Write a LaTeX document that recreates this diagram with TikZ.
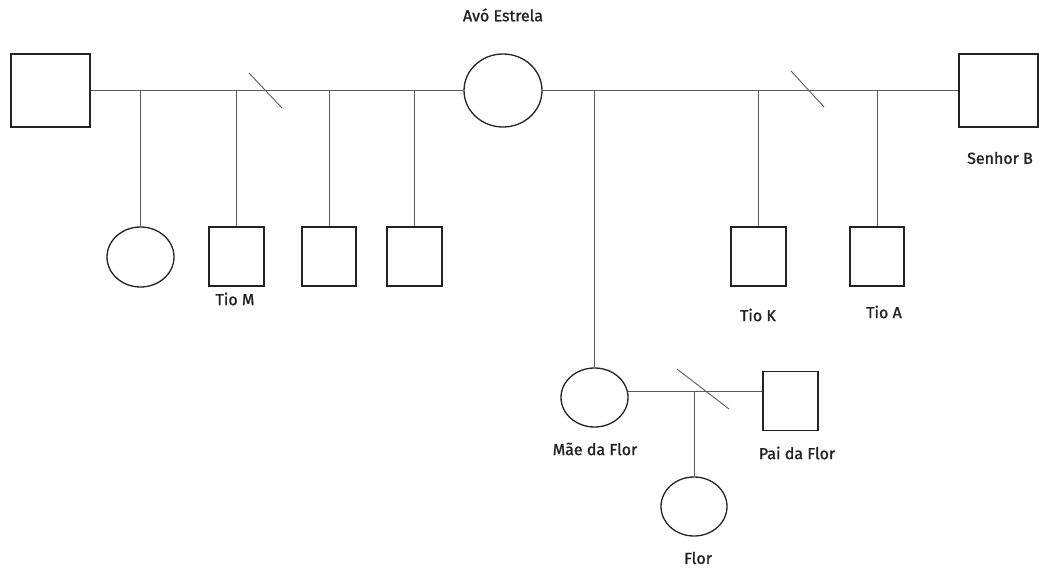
\documentclass[tikz,border=0pt]{standalone}
\usepackage{fontspec}
\newfontfamily\lblfont[FakeBold=1.2]{Fira Sans}
\usetikzlibrary{shapes.geometric}
\definecolor{lncol}{HTML}{5A5A5A}
\definecolor{shcol}{HTML}{222222}
\tikzset{
  male/.style={draw=shcol, line width=1.3pt, rectangle, inner sep=0pt, minimum width=#1},
  female/.style={draw=shcol, line width=1.3pt, ellipse, inner sep=0pt},
  conn/.style={draw=lncol, line width=0.9pt},
  lbl/.style={font=\lblfont\fontsize{16}{19}\selectfont, text=shcol, inner sep=0pt}
}
\begin{document}
\begin{tikzpicture}[x=1pt,y=-1pt]
\useasboundingbox (0,0) rectangle (1039,569);
% generation 1
\node[male=79pt, minimum height=73pt] (gpL) at (50.5,90.5) {};
\node[female, minimum width=78pt, minimum height=73pt] (avo) at (503,90.5) {};
\node[male=79pt, minimum height=73pt] (senhorB) at (998.5,90.5) {};
% generation 2 left
\node[female, minimum width=67pt, minimum height=60pt] (c1) at (140.5,257) {};
\node[male=55pt, minimum height=59pt] (tioM) at (236.5,256.5) {};
\node[male=54pt, minimum height=59pt] (s3) at (329,256.5) {};
\node[male=55pt, minimum height=59pt] (s4) at (414.5,256.5) {};
% generation 2 right
\node[male=55pt, minimum height=59pt] (tioK) at (758.5,256.5) {};
\node[male=54pt, minimum height=59pt] (tioA) at (877,256.5) {};
\node[female, minimum width=67pt, minimum height=59pt] (mae) at (594.5,397.5) {};
\node[male=55pt, minimum height=59pt] (pai) at (790.5,401) {};
% generation 3
\node[female, minimum width=66pt, minimum height=59pt] (flor) at (694,506.5) {};
% labels
\node[lbl] (lavo) at (503,15) {Avó Estrela};
\node[lbl] (ltioM) at (235,299) {Tio M};
\node[lbl] (lsenhor) at (1000,158) {Senhor B};
\node[lbl] (ltioK) at (758,315) {Tio K};
\node[lbl] (ltioA) at (884,312) {Tio A};
\node[lbl] (lmae) at (595,449) {Mãe da Flor};
\node[lbl] (lpai) at (797,453) {Pai da Flor};
\node[lbl] (lflor) at (698,558) {Flor};
% couple lines
\draw[conn] (gpL.east) -- (avo.west);
\draw[conn] (avo.east) -- (senhorB.west);
\draw[conn] (mae.11) -- (mae.11 -| pai.west);
% descent lines
\draw[conn] (c1.north |- avo.west) -- (c1.north);
\draw[conn] (tioM.north |- avo.west) -- (tioM.north);
\draw[conn] (s3.north |- avo.west) -- (s3.north);
\draw[conn] (s4.north |- avo.west) -- (s4.north);
\draw[conn] (mae.north |- avo.east) -- (mae.north);
\draw[conn] (tioK.north |- avo.east) -- (tioK.north);
\draw[conn] (tioA.north |- avo.east) -- (tioA.north);
\draw[conn] (flor.north |- mae.11) -- (flor.north);
% divorce slashes
\coordinate (sl1a) at (249,73); \coordinate (sl1b) at (282,108);
\coordinate (sl2a) at (791,71); \coordinate (sl2b) at (824,107);
\coordinate (sl3a) at (677,369); \coordinate (sl3b) at (729,409);
\draw[conn] (sl1a) -- (sl1b);
\draw[conn] (sl2a) -- (sl2b);
\draw[conn] (sl3a) -- (sl3b);
\end{tikzpicture}
\end{document}
